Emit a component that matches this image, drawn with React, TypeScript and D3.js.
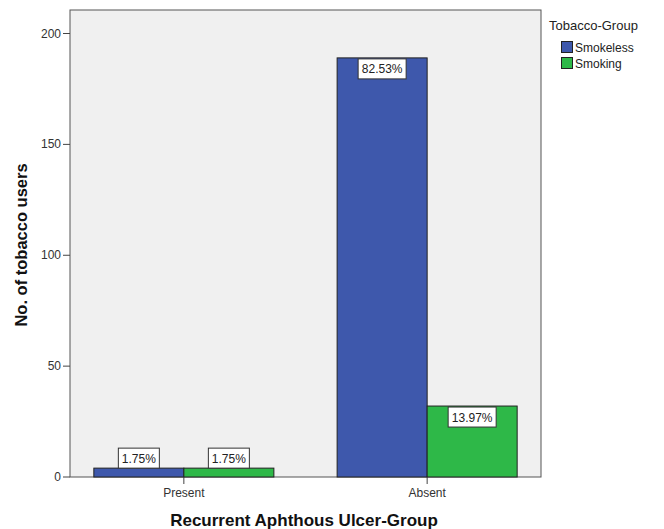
import React from "react";
import * as d3 from "d3";

const categories = ["Present", "Absent"];
const seriesNames = ["Smokeless", "Smoking"];
const smokeless = [4, 189];
const smoking = [4, 32];
const smokelessPct = ["1.75%", "82.53%"];
const smokingPct = ["1.75%", "13.97%"];
const yTicks = [0, 50, 100, 150, 200];
const colors = ["#3E58AC", "#2EB848"];

const W = 664;
const H = 529;
const plot = { left: 70, right: 541, top: 10, bottom: 477 };
const FONT = "'Liberation Sans', Arial, sans-serif";

export default function App() {
  const y = d3.scaleLinear().domain([0, 200]).range([plot.bottom, 33.5]);
  const x0 = d3
    .scaleBand()
    .domain(categories)
    .range([plot.left, plot.right])
    .paddingInner(0.26)
    .paddingOuter(0.098);
  const x1 = d3.scaleBand().domain(seriesNames).range([0, x0.bandwidth()]);

  const series = [
    { name: seriesNames[0], values: smokeless, pct: smokelessPct, color: colors[0] },
    { name: seriesNames[1], values: smoking, pct: smokingPct, color: colors[1] },
  ];

  const labelW = (t: string) => (t.length >= 6 ? 48 : 41);
  const labelH = 20;

  return (
    <svg width={W} height={H} style={{ position: "absolute", left: 0, top: 0 }} fontFamily={FONT}>
      <rect x={0} y={0} width={W} height={H} fill="#ffffff" />
      <rect
        x={plot.left}
        y={plot.top}
        width={plot.right - plot.left}
        height={plot.bottom - plot.top}
        fill="#f0f0f0"
        stroke="#555"
        strokeWidth={1}
      />
      {/* bars */}
      {series.map((s) =>
        categories.map((c, i) => {
          const bx = (x0(c) as number) + (x1(s.name) as number);
          const by = y(s.values[i]);
          return (
            <rect
              key={s.name + c}
              x={bx}
              y={by}
              width={x1.bandwidth()}
              height={plot.bottom - by}
              fill={s.color}
              stroke="#222"
              strokeWidth={1}
            />
          );
        })
      )}
      {/* labels */}
      {series.map((s) =>
        categories.map((c, i) => {
          const cx = (x0(c) as number) + (x1(s.name) as number) + x1.bandwidth() / 2;
          const by = y(s.values[i]);
          const barH = plot.bottom - by;
          const top = barH > labelH + 4 ? by + 1 : by - labelH;
          const w = labelW(s.pct[i]);
          return (
            <g key={"l" + s.name + c}>
              <rect
                x={cx - w / 2}
                y={top}
                width={w}
                height={labelH}
                fill="#ffffff"
                stroke="#333"
                strokeWidth={1}
              />
              <text x={cx} y={top + 14.5} textAnchor="middle" fontSize={12} fill="#222">
                {s.pct[i]}
              </text>
            </g>
          );
        })
      )}
      {/* y axis */}
      {yTicks.map((t) => (
        <g key={"yt" + t}>
          <line x1={plot.left - 7} x2={plot.left} y1={y(t)} y2={y(t)} stroke="#444" />
          <text x={plot.left - 9} y={y(t) + 4} textAnchor="end" fontSize={12} fill="#333">
            {t}
          </text>
        </g>
      ))}
      {/* x axis */}
      {categories.map((c) => {
        const cx = (x0(c) as number) + x0.bandwidth() / 2;
        return (
          <g key={"xt" + c}>
            <line x1={cx} x2={cx} y1={plot.bottom} y2={plot.bottom + 7} stroke="#444" />
            <text x={cx} y={plot.bottom + 20} textAnchor="middle" fontSize={12} fill="#333">
              {c}
            </text>
          </g>
        );
      })}
      <text
        x={304}
        y={526}
        textAnchor="middle"
        fontSize={17}
        fontWeight="bold"
        fill="#111"
      >
        Recurrent Aphthous Ulcer-Group
      </text>
      <text
        transform={`translate(27,245) rotate(-90)`}
        textAnchor="middle"
        fontSize={16.5}
        fontWeight="bold"
        fill="#111"
      >
        No. of tobacco users
      </text>
      {/* legend */}
      <text x={549} y={30} fontSize={13} fill="#222">
        Tobacco-Group
      </text>
      {series.map((s, i) => (
        <g key={"lg" + s.name}>
          <rect x={561.5} y={41.5 + i * 16} width={11} height={11} fill={s.color} stroke="#222" />
          <text x={575} y={51.5 + i * 16} fontSize={12} fill="#222">
            {s.name}
          </text>
        </g>
      ))}
    </svg>
  );
}
